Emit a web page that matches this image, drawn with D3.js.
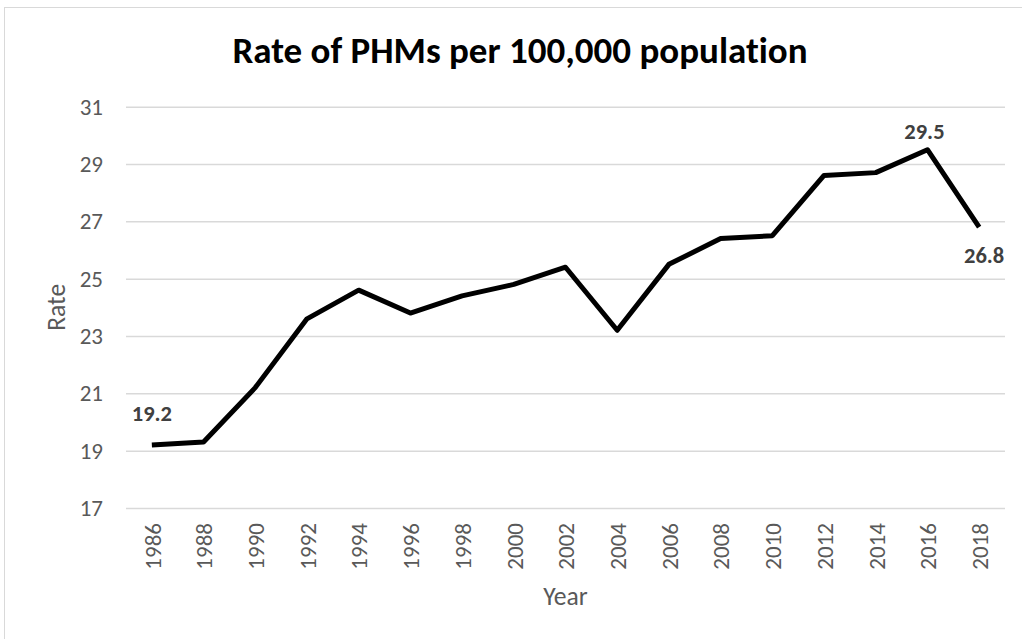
<!DOCTYPE html>
<html>
<head>
<meta charset="utf-8">
<script src="https://cdn.jsdelivr.net/npm/d3@7"></script>
<style>
  html, body { margin: 0; padding: 0; background: #fff; }
  svg { display: block; }
  text { font-family: Carlito, Calibri, "Open Sans", sans-serif; font-variant-ligatures: none; }
</style>
</head>
<body>
<svg id="chart" width="1022" height="639"></svg>
<script>
// Rate of PHMs per 100,000 population, every second year
const years = ["1986","1988","1990","1992","1994","1996","1998","2000","2002",
               "2004","2006","2008","2010","2012","2014","2016","2018"];
const rates = [19.2, 19.3, 21.2, 23.6, 24.6, 23.8, 24.4, 24.8, 25.4,
               23.2, 25.5, 26.4, 26.5, 28.6, 28.7, 29.5, 26.8];
const yTicks = [17, 19, 21, 23, 25, 27, 29, 31];
// years whose value is written next to the line
const labelledYears = ["1986", "2016", "2018"];

const W = 1022, H = 639;
const plot = { left: 126, right: 1005, top: 106.7, bottom: 508 };
const FONT = 'Carlito, Calibri, "Open Sans", sans-serif';

const svg = d3.select("#chart");

// outer chart frame
svg.append("rect")
  .attr("x", 4.5).attr("y", 7.5)
  .attr("width", W + 20).attr("height", H + 20)
  .attr("fill", "#fff").attr("stroke", "#d9d9d9").attr("stroke-width", 1);

const x = d3.scalePoint().domain(years).range([plot.left, plot.right]).padding(0.5);
const y = d3.scaleLinear().domain([17, 31]).range([plot.bottom, plot.top]);

// horizontal gridlines
svg.append("g")
  .attr("transform", `translate(${plot.left},0)`)
  .call(d3.axisLeft(y).tickValues(yTicks).tickSize(-(plot.right - plot.left)).tickFormat(""))
  .call(g => g.select(".domain").remove())
  .call(g => g.selectAll(".tick line").attr("stroke", "#d9d9d9").attr("stroke-width", 1.5));

// y tick labels
svg.append("g")
  .attr("transform", `translate(${plot.left},0)`)
  .call(d3.axisLeft(y).tickValues(yTicks).tickSize(0).tickPadding(23))
  .call(g => g.select(".domain").remove())
  .call(g => g.selectAll(".tick text")
    .attr("fill", "#595959")
    .style("font-family", FONT)
    .style("font-size", "23px"));

// x axis with rotated year labels
svg.append("g")
  .attr("transform", `translate(0,${plot.bottom})`)
  .call(d3.axisBottom(x).tickSize(0))
  .call(g => g.select(".domain").remove())
  .call(g => g.selectAll(".tick text")
    .attr("fill", "#595959")
    .style("font-family", FONT)
    .style("font-size", "23px")
    .attr("text-anchor", "end")
    .attr("transform", "rotate(-90)")
    .attr("x", -15).attr("y", 0).attr("dy", "0.36em"));

// series line
const pts = years.map((yr, i) => ({ year: yr, rate: rates[i] }));
svg.append("path")
  .datum(pts)
  .attr("fill", "none")
  .attr("stroke", "#000")
  .attr("stroke-width", 5)
  .attr("stroke-linejoin", "round")
  .attr("stroke-linecap", "butt")
  .attr("d", d3.line().x(d => x(d.year)).y(d => y(d.rate)));

// value labels (offsets are to the text baseline)
const labelOffset = { "1986": [0, -24], "2016": [-3, -10.5], "2018": [5, 36] };
svg.append("g").selectAll("text")
  .data(pts.filter(d => labelledYears.includes(d.year)))
  .join("text")
  .attr("x", d => x(d.year) + labelOffset[d.year][0])
  .attr("y", d => y(d.rate) + labelOffset[d.year][1])
  .attr("text-anchor", "middle")
  .attr("fill", "#404040")
  .style("font-weight", "bold")
  .style("font-size", "22.5px")
  .text(d => d.rate.toFixed(1));

// chart title
svg.append("text")
  .attr("x", 520)
  .attr("y", 62.7)
  .attr("text-anchor", "middle")
  .attr("fill", "#000")
  .style("font-weight", "bold")
  .style("font-size", "37px")
  .text("Rate of PHMs per 100,000 population");

// axis titles
svg.append("text")
  .attr("x", (plot.left + plot.right) / 2)
  .attr("y", 605)
  .attr("text-anchor", "middle")
  .attr("fill", "#595959")
  .style("font-size", "25.6px")
  .text("Year");

svg.append("text")
  .attr("transform", `translate(65,${(plot.top + plot.bottom) / 2}) rotate(-90)`)
  .attr("text-anchor", "middle")
  .attr("fill", "#595959")
  .style("font-size", "25.6px")
  .text("Rate");
</script>
</body>
</html>
